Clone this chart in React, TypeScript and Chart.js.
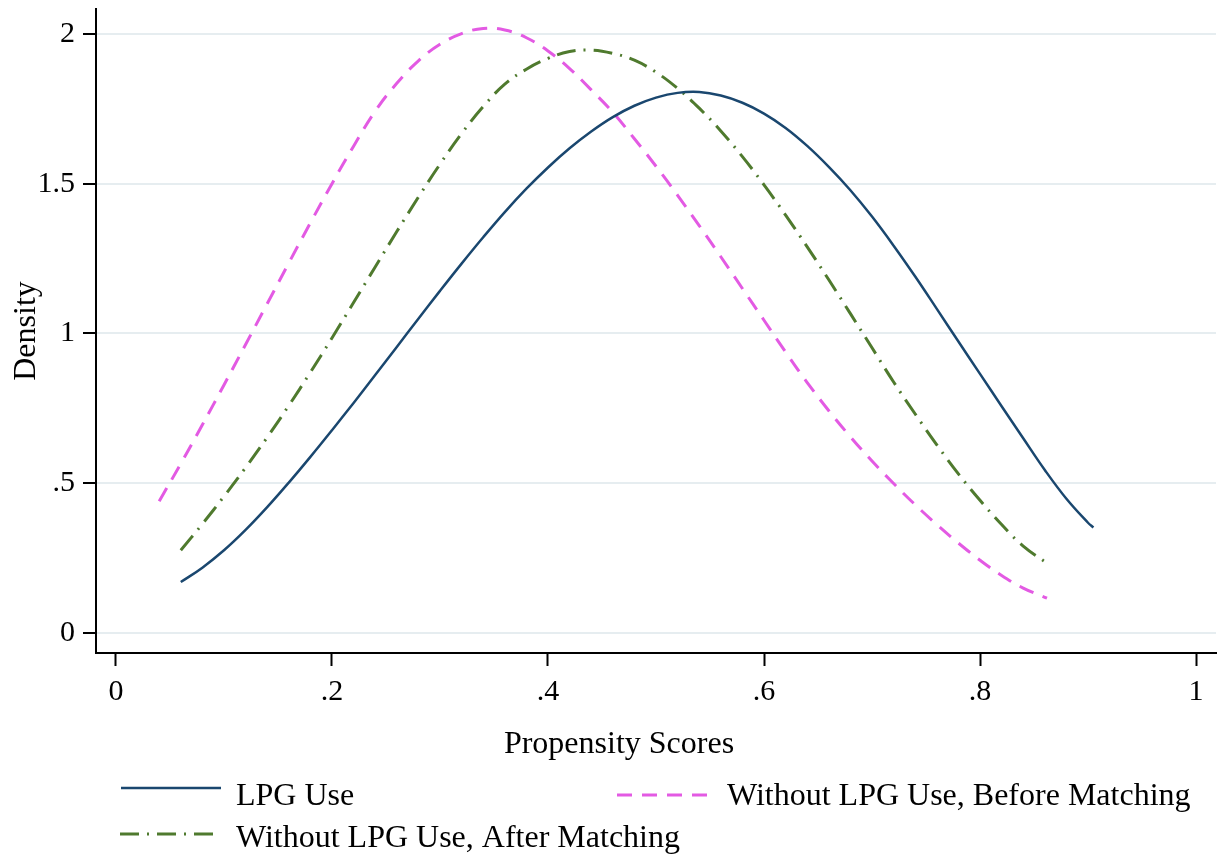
import React, { useEffect, useRef } from "react";
import { Chart, registerables } from "chart.js";
Chart.register(...registerables);

// ---- data ----
const LPG_X = [0.06, 0.08, 0.1, 0.12, 0.14, 0.16, 0.18, 0.2, 0.22, 0.24, 0.26, 0.28, 0.3, 0.32, 0.34, 0.36, 0.38, 0.4, 0.42, 0.44, 0.46, 0.48, 0.5, 0.52, 0.54, 0.56, 0.58, 0.6, 0.62, 0.64, 0.66, 0.68, 0.7, 0.72, 0.74, 0.76, 0.78, 0.8, 0.82, 0.84, 0.86, 0.88, 0.9, 0.905];
const LPG_Y = [0.17, 0.218, 0.276, 0.344, 0.42, 0.502, 0.588, 0.677, 0.768, 0.861, 0.955, 1.049, 1.142, 1.233, 1.321, 1.405, 1.483, 1.554, 1.618, 1.674, 1.722, 1.76, 1.787, 1.803, 1.806, 1.794, 1.77, 1.734, 1.686, 1.626, 1.556, 1.478, 1.39, 1.293, 1.19, 1.082, 0.973, 0.865, 0.757, 0.65, 0.544, 0.448, 0.368, 0.352];

const BEFORE_X = [0.04, 0.06, 0.08, 0.1, 0.12, 0.14, 0.16, 0.18, 0.2, 0.22, 0.24, 0.26, 0.28, 0.3, 0.32, 0.34, 0.36, 0.38, 0.4, 0.42, 0.44, 0.46, 0.48, 0.5, 0.52, 0.54, 0.56, 0.58, 0.6, 0.62, 0.64, 0.66, 0.68, 0.7, 0.72, 0.74, 0.76, 0.78, 0.8, 0.82, 0.84, 0.862];
const BEFORE_Y = [0.44, 0.565, 0.695, 0.828, 0.963, 1.099, 1.235, 1.369, 1.5, 1.625, 1.742, 1.835, 1.91, 1.965, 2.001, 2.018, 2.013, 1.987, 1.943, 1.884, 1.813, 1.738, 1.65, 1.558, 1.461, 1.36, 1.256, 1.15, 1.044, 0.938, 0.836, 0.742, 0.655, 0.574, 0.499, 0.428, 0.362, 0.3, 0.243, 0.192, 0.15, 0.116];

const AFTER_X = [0.06, 0.08, 0.1, 0.12, 0.14, 0.16, 0.18, 0.2, 0.22, 0.24, 0.26, 0.28, 0.3, 0.32, 0.34, 0.36, 0.38, 0.4, 0.42, 0.44, 0.46, 0.48, 0.5, 0.52, 0.54, 0.56, 0.58, 0.6, 0.62, 0.64, 0.66, 0.68, 0.7, 0.72, 0.74, 0.76, 0.78, 0.8, 0.82, 0.84, 0.862];
const AFTER_Y = [0.276, 0.364, 0.456, 0.552, 0.653, 0.759, 0.87, 0.985, 1.103, 1.222, 1.34, 1.455, 1.565, 1.667, 1.757, 1.832, 1.882, 1.918, 1.941, 1.946, 1.935, 1.912, 1.872, 1.818, 1.752, 1.676, 1.59, 1.496, 1.395, 1.289, 1.179, 1.066, 0.952, 0.838, 0.731, 0.628, 0.531, 0.443, 0.362, 0.29, 0.233];

const SERIES_NAMES = ["LPG Use", "Without LPG Use, Before Matching", "Without LPG Use, After Matching"];
const X_TICKS = [0, 0.2, 0.4, 0.6, 0.8, 1];
const X_TICK_LABELS = ["0", ".2", ".4", ".6", ".8", "1"];
const Y_TICKS = [0, 0.5, 1, 1.5, 2];
const Y_TICK_LABELS = ["0", ".5", "1", "1.5", "2"];
const X_TITLE = "Propensity Scores";
const Y_TITLE = "Density";

const FONT = "'Liberation Serif', 'Times New Roman', serif";
const NAVY = "#1a476f";
const PINK = "#e35ae3";
const GREEN = "#4f7a2e";

const toPoints = (xs: number[], ys: number[]) => xs.map((x, i) => ({ x, y: ys[i] }));

const overlayPlugin = {
  id: "stataOverlay",
  afterDraw(chart: any) {
    const ctx = chart.ctx;
    ctx.save();
    ctx.fillStyle = "#000";
    ctx.font = `32px ${FONT}`;
    // x title
    ctx.textAlign = "center";
    ctx.textBaseline = "alphabetic";
    ctx.fillText(X_TITLE, 619, 753);
    // y title
    ctx.save();
    ctx.translate(35, 331);
    ctx.rotate(-Math.PI / 2);
    ctx.textAlign = "center";
    ctx.fillText(Y_TITLE, 0, 0);
    ctx.restore();
    // legend
    const items = [
      { ds: 0, x1: 121, x2: 221, ly: 788, tx: 236, ty: 805 },
      { ds: 1, x1: 617, x2: 717, ly: 795, tx: 727, ty: 805 },
      { ds: 2, x1: 120, x2: 221, ly: 834, tx: 236, ty: 847 },
    ];
    items.forEach((it) => {
      const ds = chart.data.datasets[it.ds];
      ctx.save();
      ctx.strokeStyle = ds.borderColor;
      ctx.lineWidth = ds.borderWidth;
      ctx.setLineDash(ds.borderDash || []);
      ctx.beginPath();
      ctx.moveTo(it.x1, it.ly);
      ctx.lineTo(it.x2, it.ly);
      ctx.stroke();
      ctx.restore();
      ctx.textAlign = "left";
      ctx.fillText(ds.label, it.tx, it.ty);
    });
    ctx.restore();
  },
};

const zeroPad = (s: any) => {
  s.paddingTop = 0;
  s.paddingBottom = 0;
  s.paddingLeft = 0;
  s.paddingRight = 0;
};

export default function App() {
  const ref = useRef<HTMLCanvasElement>(null);
  useEffect(() => {
    document.body.style.margin = "0";
    const chart = new Chart(ref.current as HTMLCanvasElement, {
      type: "line",
      data: {
        datasets: [
          {
            label: SERIES_NAMES[0],
            data: toPoints(LPG_X, LPG_Y),
            borderColor: NAVY,
            borderWidth: 2.5,
            pointRadius: 0,
            tension: 0.4,
            fill: false,
          },
          {
            label: SERIES_NAMES[1],
            data: toPoints(BEFORE_X, BEFORE_Y),
            borderColor: PINK,
            borderWidth: 3,
            borderDash: [15, 10],
            pointRadius: 0,
            tension: 0.4,
            fill: false,
          },
          {
            label: SERIES_NAMES[2],
            data: toPoints(AFTER_X, AFTER_Y),
            borderColor: GREEN,
            borderWidth: 3,
            borderDash: [19, 8, 2, 8],
            pointRadius: 0,
            tension: 0.4,
            fill: false,
          },
        ],
      },
      options: {
        responsive: false,
        animation: false,
        layout: { padding: { left: 0, top: 9, right: 6, bottom: 92 } },
        plugins: { legend: { display: false }, tooltip: { enabled: false } },
        scales: {
          x: {
            type: "linear",
            min: -0.0185,
            max: 1.0185,
            afterBuildTicks: (s: any) => {
              s.ticks = X_TICKS.map((v) => ({ value: v }));
            },
            afterFit: (s: any) => {
              s.height = 110;
              zeroPad(s);
            },
            grid: { drawOnChartArea: false, drawTicks: true, tickLength: 13, tickColor: "#000", tickWidth: 2 },
            border: { display: true, color: "#000", width: 2 },
            ticks: {
              color: "#000",
              font: { family: FONT, size: 30 },
              padding: 8,
              maxRotation: 0,
              autoSkip: false,
              callback: (v: any) => X_TICK_LABELS[X_TICKS.indexOf(v)] ?? "",
            },
          },
          y: {
            type: "linear",
            min: -0.0668,
            max: 2.083,
            afterBuildTicks: (s: any) => {
              s.ticks = Y_TICKS.map((v) => ({ value: v }));
            },
            afterFit: (s: any) => {
              s.width = 96;
              zeroPad(s);
            },
            grid: { color: "#e6edf0", lineWidth: 2, drawTicks: true, tickLength: 13, tickColor: "#000", tickWidth: 2 },
            border: { display: true, color: "#000", width: 2 },
            ticks: {
              color: "#000",
              font: { family: FONT, size: 30 },
              padding: 8,
              autoSkip: false,
              callback: (v: any) => Y_TICK_LABELS[Y_TICKS.indexOf(v)] ?? "",
            },
          },
        },
      },
      plugins: [overlayPlugin],
    } as any);
    return () => chart.destroy();
  }, []);
  return <canvas ref={ref} width={1222} height={855} style={{ display: "block" }} />;
}
